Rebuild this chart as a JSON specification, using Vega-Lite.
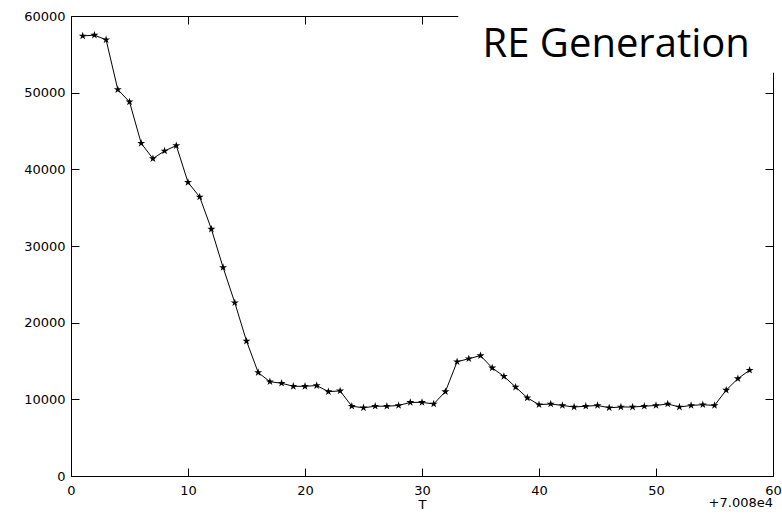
{
  "$schema": "https://vega.github.io/schema/vega-lite/v6.json",
  "width": 702,
  "height": 460,
  "autosize": {"type": "none"},
  "padding": {"left": 71, "top": 16, "right": 9, "bottom": 40},
  "background": "white",
  "config": {
    "view": {"stroke": "black", "strokeWidth": 1},
    "font": "DejaVu Sans"
  },
  "data": {
    "values": [
      {"T": 70081, "RE": 57400}, {"T": 70082, "RE": 57500}, {"T": 70083, "RE": 56900},
      {"T": 70084, "RE": 50400}, {"T": 70085, "RE": 48800}, {"T": 70086, "RE": 43400},
      {"T": 70087, "RE": 41400}, {"T": 70088, "RE": 42400}, {"T": 70089, "RE": 43100},
      {"T": 70090, "RE": 38300}, {"T": 70091, "RE": 36400}, {"T": 70092, "RE": 32200},
      {"T": 70093, "RE": 27200}, {"T": 70094, "RE": 22600}, {"T": 70095, "RE": 17600},
      {"T": 70096, "RE": 13500}, {"T": 70097, "RE": 12300}, {"T": 70098, "RE": 12100},
      {"T": 70099, "RE": 11700}, {"T": 70100, "RE": 11700}, {"T": 70101, "RE": 11800},
      {"T": 70102, "RE": 11000}, {"T": 70103, "RE": 11100}, {"T": 70104, "RE": 9100},
      {"T": 70105, "RE": 8900}, {"T": 70106, "RE": 9100}, {"T": 70107, "RE": 9100},
      {"T": 70108, "RE": 9200}, {"T": 70109, "RE": 9600}, {"T": 70110, "RE": 9600},
      {"T": 70111, "RE": 9400}, {"T": 70112, "RE": 11000}, {"T": 70113, "RE": 14900},
      {"T": 70114, "RE": 15300}, {"T": 70115, "RE": 15700}, {"T": 70116, "RE": 14100},
      {"T": 70117, "RE": 13000}, {"T": 70118, "RE": 11600}, {"T": 70119, "RE": 10200},
      {"T": 70120, "RE": 9300}, {"T": 70121, "RE": 9400}, {"T": 70122, "RE": 9200},
      {"T": 70123, "RE": 9000}, {"T": 70124, "RE": 9100}, {"T": 70125, "RE": 9200},
      {"T": 70126, "RE": 8900}, {"T": 70127, "RE": 9000}, {"T": 70128, "RE": 9000},
      {"T": 70129, "RE": 9100}, {"T": 70130, "RE": 9200}, {"T": 70131, "RE": 9400},
      {"T": 70132, "RE": 9000}, {"T": 70133, "RE": 9200}, {"T": 70134, "RE": 9300},
      {"T": 70135, "RE": 9200}, {"T": 70136, "RE": 11200}, {"T": 70137, "RE": 12700},
      {"T": 70138, "RE": 13800}
    ]
  },
  "encoding": {
    "x": {
      "field": "T", "type": "quantitative",
      "scale": {"domain": [70080, 70140], "nice": false, "zero": false}
    },
    "y": {
      "field": "RE", "type": "quantitative",
      "scale": {"domain": [0, 60000], "nice": false}
    }
  },
  "layer": [
    {
      "mark": {"type": "line", "color": "black", "strokeWidth": 1},
      "encoding": {
        "x": {
          "field": "T", "type": "quantitative",
          "axis": {
            "orient": "bottom", "values": [70080, 70090, 70100, 70110, 70120, 70130, 70140],
            "labelExpr": "format(datum.value - 70080, 'd')",
            "offset": -8,
            "grid": false, "domain": false, "ticks": true, "tickSize": 8, "tickWidth": 1, "tickColor": "black", "tickOpacity": 1,
            "labelPadding": 8, "labelFontSize": 13, "labelColor": "black",
            "labelFlush": false, "labelOverlap": false,
            "title": "T", "titleFontSize": 13, "titleFontWeight": "normal", "titleColor": "black",
            "titlePadding": 1, "zindex": 1
          }
        },
        "y": {
          "field": "RE", "type": "quantitative",
          "axis": {
            "orient": "left", "values": [0, 10000, 20000, 30000, 40000, 50000, 60000],
            "format": "d",
            "offset": -8,
            "grid": false, "domain": false, "ticks": true, "tickSize": 8, "tickWidth": 1, "tickColor": "black", "tickOpacity": 1,
            "labelPadding": 6, "labelFontSize": 13, "labelColor": "black",
            "labelFlush": false, "labelOverlap": false, "title": null, "zindex": 1
          }
        }
      }
    },
    {
      "mark": {
        "type": "point", "filled": true, "color": "black", "opacity": 1,
        "shape": "M0,-1L0.2245,-0.309L0.9511,-0.309L0.3633,0.118L0.5878,0.809L0,0.382L-0.5878,0.809L-0.3633,0.118L-0.9511,-0.309L-0.2245,-0.309Z",
        "size": 70
      },
      "encoding": {
        "x": {
          "field": "T", "type": "quantitative",
          "axis": {
            "orient": "top", "values": [70080, 70090, 70100, 70110, 70120, 70130, 70140],
            "offset": -8,
            "labels": false, "grid": false, "domain": false, "ticks": true, "tickSize": 8, "tickWidth": 1, "tickColor": "black", "tickOpacity": 1, "title": null
          }
        },
        "y": {
          "field": "RE", "type": "quantitative",
          "axis": {
            "orient": "right", "values": [0, 10000, 20000, 30000, 40000, 50000, 60000],
            "offset": -8,
            "labels": false, "grid": false, "domain": false, "ticks": true, "tickSize": 8, "tickWidth": 1, "tickColor": "black", "tickOpacity": 1, "title": null
          }
        }
      }
    },
    {
      "data": {"values": [{"x1": 70113.1, "x2": 70141, "y1": 52600, "y2": 62200}]},
      "mark": {"type": "rect", "color": "white", "opacity": 1, "clip": false},
      "encoding": {
        "x": {"field": "x1", "type": "quantitative", "axis": null},
        "x2": {"field": "x2"},
        "y": {"field": "y1", "type": "quantitative", "axis": null},
        "y2": {"field": "y2"}
      }
    },
    {
      "data": {"values": [{"x": 70126.6, "y": 54600, "label": "RE Generation"}]},
      "mark": {"type": "text", "font": "Open Sans", "fontSize": 40, "color": "black", "align": "center", "baseline": "alphabetic", "clip": false},
      "encoding": {
        "x": {"field": "x", "type": "quantitative", "axis": null},
        "y": {"field": "y", "type": "quantitative", "axis": null},
        "text": {"field": "label"}
      }
    },
    {
      "data": {"values": [{"x": 70140, "y": -3500, "label": "+7.008e4"}]},
      "mark": {"type": "text", "fontSize": 13, "color": "black", "align": "right", "baseline": "middle", "clip": false},
      "encoding": {
        "x": {"field": "x", "type": "quantitative", "axis": null},
        "y": {"field": "y", "type": "quantitative", "axis": null},
        "text": {"field": "label"}
      }
    }
  ],
  "resolve": {"axis": {"x": "independent", "y": "independent"}}
}
